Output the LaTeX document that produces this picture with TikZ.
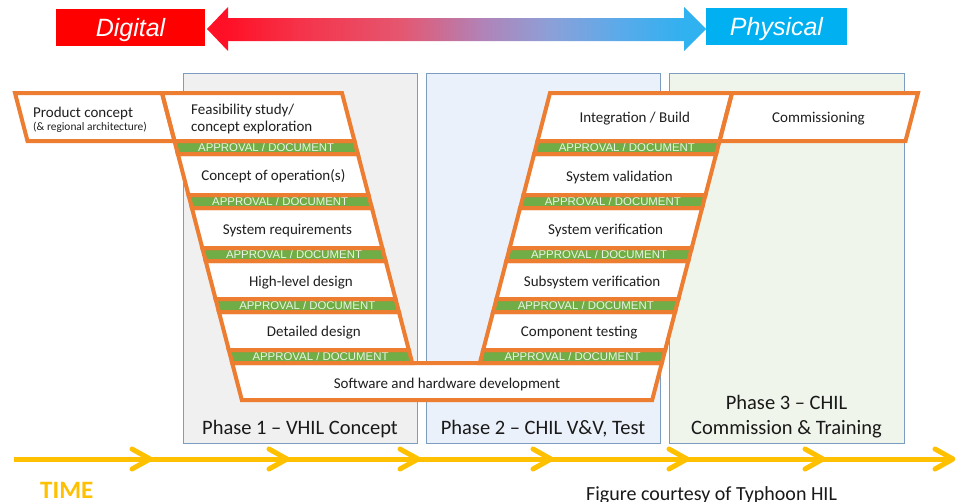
\documentclass[tikz,border=0pt]{standalone}
\usepackage{fontspec}
\setmainfont{Carlito}
\newfontfamily\arialfont{Liberation Sans}
\usetikzlibrary{calc}

\definecolor{vorange}{HTML}{ED7D31}
\definecolor{vgreen}{HTML}{70AD47}
\definecolor{approvaltext}{HTML}{EAF5E2}
\definecolor{timeyellow}{HTML}{FFC000}
\definecolor{phaseborder}{HTML}{7C9CC0}
\definecolor{phaseone}{HTML}{F0F0F0}
\definecolor{phasetwo}{HTML}{EBF1FA}
\definecolor{phasethree}{HTML}{EFF5EB}
\definecolor{digitalred}{HTML}{FF0000}
\definecolor{physblue}{HTML}{00B0F0}
\definecolor{gradA}{HTML}{FF1026}
\definecolor{gradB}{HTML}{F5334A}
\definecolor{gradC}{HTML}{E5566F}
\definecolor{gradD}{HTML}{B282B6}
\definecolor{gradE}{HTML}{8CA0D8}
\definecolor{gradF}{HTML}{5AAAEA}
\definecolor{gradG}{HTML}{30B1F0}

% red-to-blue band of the Digital/Physical arrow
\pgfdeclarehorizontalshading{dpgrad}{100bp}{
  color(0bp)=(gradA); color(25bp)=(gradA); color(27bp)=(gradA);
  color(34.3bp)=(gradB); color(44.3bp)=(gradC); color(52.4bp)=(gradD);
  color(59.4bp)=(gradE); color(66.4bp)=(gradF); color(72.8bp)=(gradG);
  color(75bp)=(gradG); color(100bp)=(gradG)}

\begin{document}
\begin{tikzpicture}[x=1pt,y=-1pt,
  declare function={
    xl(\t)=162+0.26*(\t-93);
    xr(\t)=342+0.26*(\t-93);
    xrl(\t)=550-0.26*(\t-93);
    xrr(\t)=732-0.26*(\t-93);
  },
  panel/.style={draw=phaseborder, line width=0.9pt, inner sep=0pt, minimum height=370pt},
  rungline/.style={draw=vorange, line width=4pt, line join=miter},
  boxtext/.style={anchor=base, inner sep=0pt, text=black!88, font=\fontsize{15}{17}\selectfont},
  leftbase/.style={anchor=base west, inner sep=0pt, text=black!88},
  apptext/.style={anchor=base, inner sep=0pt, text=approvaltext, font=\arialfont\fontsize{11.4}{12}\selectfont},
  phasetext/.style={anchor=base, inner sep=0pt, text=black!90, font=\fontsize{20.5}{24}\selectfont},
  endbox/.style={inner sep=0pt, minimum height=37pt, text height=18pt, text depth=1pt,
    text=white, font=\arialfont\itshape\fontsize{25}{25}\selectfont},
  timeline/.style={draw=timeyellow, line width=5pt},
  chevron/.style={draw=timeyellow, line width=5pt, line cap=round, line join=round},
]
\useasboundingbox (0,0) rectangle (955,501);
\fill[white] (0,0) rectangle (955,501);

% phase panels
\node[panel, fill=phaseone,   minimum width=234pt] (ph1) at (300,258) {};
\node[panel, fill=phasetwo,   minimum width=234pt] (ph2) at (543,258) {};
\node[panel, fill=phasethree, minimum width=235pt] (ph3) at (786.5,258) {};
\node[phasetext] (ph1label) at (300,434) {Phase 1 – VHIL Concept};
\node[phasetext] (ph2label) at (543,434) {Phase 2 – CHIL V\&V, Test};
\node[phasetext] (ph3labela) at (786.5,409) {Phase 3 – CHIL};
\node[phasetext] (ph3labelb) at (786.5,434) {Commission \& Training};

% digital / physical banner
\node[endbox, fill=digitalred, minimum width=149pt] (digital) at (130.5,27.5) {Digital};
\node[endbox, fill=physblue, minimum width=141pt] (physical) at (776.5,26.5) {Physical};
\path[shading=dpgrad]
  (207,29) -- (228,7) -- (228,18) -- (684,18) -- (684,7) -- (706,29)
  -- (684,51) -- (684,41) -- (228,41) -- (228,51) -- cycle;

% V-model fills
\foreach \a/\b/\c in {93/141/white,141/154/vgreen,154/195/white,195/208/vgreen,208/248/white,248/261/vgreen,261/299/white,299/312/vgreen,312/350/white,350/363/vgreen}{
  \fill[fill=\c] ({xl(\a)},\a) -- ({xr(\a)},\a) -- ({xr(\b)},\b) -- ({xl(\b)},\b) -- cycle;
  \fill[fill=\c] ({xrl(\a)},\a) -- ({xrr(\a)},\a) -- ({xrr(\b)},\b) -- ({xrl(\b)},\b) -- cycle;
}
\fill[white] (15,93) -- (162,93) -- ({xl(141)},141) -- (27.5,141) -- cycle;
\fill[white] (732,93) -- (918,93) -- (905.5,141) -- ({xrr(141)},141) -- cycle;
\fill[white] ({xl(363)},363) -- ({xrr(363)},363) -- ({xrr(400)},400) -- ({xl(400)},400) -- cycle;

% approval labels on the green bars
\foreach \m [count=\i] in {147.5,201.5,254.5,305.5,356.5}{
  \node[apptext] (appL\i) at ({(xl(\m)+xr(\m))/2},{\m+4}) {APPROVAL / DOCUMENT};
  \node[apptext] (appR\i) at ({(xrl(\m)+xrr(\m))/2},{\m+4}) {APPROVAL / DOCUMENT};
}

% V-model outlines
\foreach \a/\b in {93/141,141/154,154/195,195/208,208/248,248/261,261/299,299/312,312/350,350/363}{
  \draw[rungline] ({xl(\a)},\a) -- ({xr(\a)},\a) -- ({xr(\b)},\b) -- ({xl(\b)},\b) -- cycle;
  \draw[rungline] ({xrl(\a)},\a) -- ({xrr(\a)},\a) -- ({xrr(\b)},\b) -- ({xrl(\b)},\b) -- cycle;
}
\draw[rungline] (15,93) -- (162,93) -- ({xl(141)},141) -- (27.5,141) -- cycle;
\draw[rungline] (732,93) -- (918,93) -- (905.5,141) -- ({xrr(141)},141) -- cycle;
\draw[rungline] ({xl(363)},363) -- ({xrr(363)},363) -- ({xrr(400)},400) -- ({xl(400)},400) -- cycle;

% stage labels
\node[leftbase, font=\fontsize{15}{17}\selectfont] (prod) at (33,117) {Product concept};
\node[leftbase, font=\fontsize{11.4}{13}\selectfont] (prodsub) at (33,130) {(\& regional architecture)};
\node[leftbase, font=\fontsize{15}{17}\selectfont] (feas) at (191,114) {Feasibility study/};
\node[leftbase, font=\fontsize{15}{17}\selectfont] (feasb) at (191,131) {concept exploration};
\node[boxtext] (conops) at ({(xl(175)+xr(175))/2},180) {Concept of operation(s)};
\node[boxtext] (sysreq) at ({(xl(229)+xr(229))/2},234) {System requirements};
\node[boxtext] (hld) at ({(xl(281)+xr(281))/2},286) {High-level design};
\node[boxtext] (dd) at ({(xl(331)+xr(331))/2},336) {Detailed design};
\node[boxtext] (swhw) at (447,388) {Software and hardware development};
\node[boxtext] (integ) at ({(xrl(117)+xrr(117))/2},122) {Integration / Build};
\node[boxtext] (sysval) at ({(xrl(176)+xrr(176))/2},181) {System validation};
\node[boxtext] (sysver) at ({(xrl(229)+xrr(229))/2},234) {System verification};
\node[boxtext] (subver) at ({(xrl(281)+xrr(281))/2},286) {Subsystem verification};
\node[boxtext] (comptest) at ({(xrl(331)+xrr(331))/2},336) {Component testing};
\node[boxtext] (commis) at (818.5,122) {Commissioning};

% time axis
\coordinate (tstart) at (14,459);
\coordinate (tend) at (951,459);
\draw[timeline] (tstart) -- (tend);
\foreach \x in {150,287,418,551,687,823,953}{
  \draw[chevron] (\x-18,449) -- (\x,459) -- (\x-18,469);
}
\node[anchor=base west, inner sep=0pt, text=timeyellow, font=\bfseries\fontsize{25}{25}\selectfont] (time) at (40,498) {TIME};
\node[anchor=base west, inner sep=0pt, text=black!90, font=\fontsize{20}{22}\selectfont] (credit) at (586,500) {Figure courtesy of Typhoon HIL};
\end{tikzpicture}
\end{document}
